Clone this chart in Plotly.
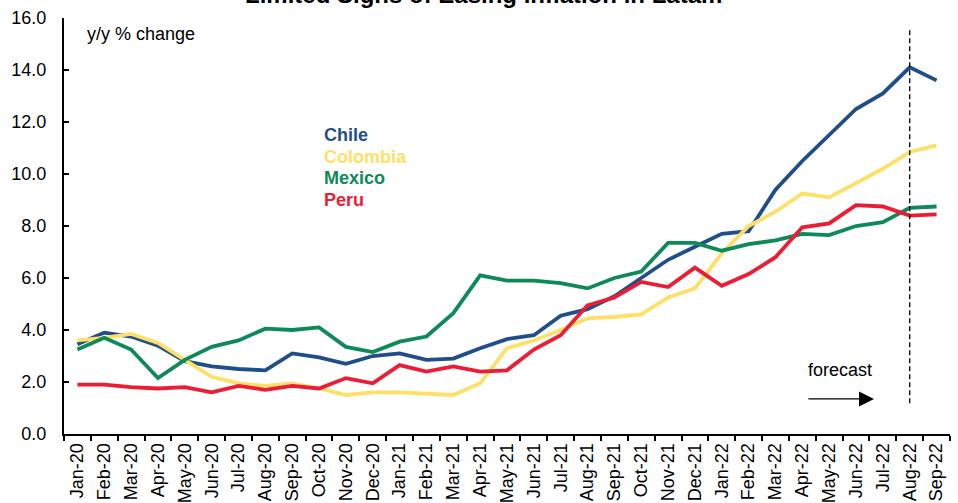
import plotly.graph_objects as go

months = ["Jan-20", "Feb-20", "Mar-20", "Apr-20", "May-20", "Jun-20", "Jul-20", "Aug-20",
          "Sep-20", "Oct-20", "Nov-20", "Dec-20", "Jan-21", "Feb-21", "Mar-21", "Apr-21",
          "May-21", "Jun-21", "Jul-21", "Aug-21", "Sep-21", "Oct-21", "Nov-21", "Dec-21",
          "Jan-22", "Feb-22", "Mar-22", "Apr-22", "May-22", "Jun-22", "Jul-22", "Aug-22", "Sep-22"]

chile = [3.45, 3.9, 3.75, 3.4, 2.8, 2.6, 2.5, 2.45, 3.1, 2.95, 2.7, 3.0, 3.1, 2.85, 2.9, 3.3,
         3.65, 3.8, 4.55, 4.8, 5.3, 6.0, 6.7, 7.2, 7.7, 7.8, 9.4, 10.5, 11.5, 12.5, 13.1, 14.1, 13.6]
colombia = [3.6, 3.7, 3.85, 3.5, 2.85, 2.2, 1.95, 1.85, 1.95, 1.75, 1.5, 1.6, 1.6, 1.55, 1.5, 1.95,
            3.3, 3.6, 4.0, 4.45, 4.5, 4.6, 5.25, 5.6, 6.95, 8.0, 8.55, 9.25, 9.1, 9.65, 10.2, 10.85, 11.1]
mexico = [3.25, 3.7, 3.25, 2.15, 2.85, 3.35, 3.6, 4.05, 4.0, 4.1, 3.35, 3.15, 3.55, 3.75, 4.65, 6.1,
          5.9, 5.9, 5.8, 5.6, 6.0, 6.25, 7.35, 7.35, 7.05, 7.3, 7.45, 7.7, 7.65, 8.0, 8.15, 8.7, 8.75]
peru = [1.9, 1.9, 1.8, 1.75, 1.8, 1.6, 1.85, 1.7, 1.85, 1.75, 2.15, 1.95, 2.65, 2.4, 2.6, 2.4,
        2.45, 3.25, 3.8, 4.95, 5.25, 5.85, 5.65, 6.4, 5.7, 6.15, 6.8, 7.95, 8.1, 8.8, 8.75, 8.4, 8.45]

series_names = ["Chile", "Colombia", "Mexico", "Peru"]
series_values = [chile, colombia, mexico, peru]
series_colors = ["#1F4E8A", "#FFE066", "#0E8A5A", "#EE1B34"]

yticks = [0, 2, 4, 6, 8, 10, 12, 14, 16]
ytick_labels = ["0.0", "2.0", "4.0", "6.0", "8.0", "10.0", "12.0", "14.0", "16.0"]

title_text = "Limited Signs of Easing Inflation in Latam"
forecast_start = "Aug-22"

FONT = "Liberation Sans, Arial, sans-serif"

fig = go.Figure()
for name, vals, col in zip(series_names, series_values, series_colors):
    fig.add_trace(go.Scatter(x=months, y=vals, mode="lines", name=name,
                             line=dict(color=col, width=3.8), showlegend=False))

# legend-like coloured labels
for i, (name, col) in enumerate(zip(series_names, series_colors)):
    fig.add_annotation(x=0.291, y=0.719 - i * 0.0522, xref="paper", yref="paper",
                       text="<b>%s</b>" % name, showarrow=False, xanchor="left", yanchor="middle",
                       font=dict(family=FONT, size=18, color=col))

fig.add_annotation(x=0.024, y=0.962, xref="paper", yref="paper", text="y/y % change",
                   showarrow=False, xanchor="left", yanchor="middle",
                   font=dict(family=FONT, size=18, color="#000"))

# forecast divider
fig.add_shape(type="line", xref="x", yref="y", x0=forecast_start, x1=forecast_start,
              y0=1.18, y1=15.55, line=dict(color="black", width=1.3, dash="5px,3px"))

fig.add_annotation(x=29.67, y=1.35, ax=27.17, ay=1.35, xref="x", yref="y", axref="x", ayref="y",
                   text="", showarrow=True, arrowhead=2, arrowsize=2.3, arrowwidth=1.3,
                   arrowcolor="black")
fig.add_annotation(x=28.4, y=2.48, xref="x", yref="y", text="forecast", showarrow=False,
                   font=dict(family=FONT, size=18, color="#000"))

fig.add_annotation(x=0.4735, y=1.056, xref="paper", yref="paper", text="<b>%s</b>" % title_text,
                   showarrow=False, xanchor="center", yanchor="middle",
                   font=dict(family=FONT, size=24, color="#000"))

fig.update_layout(
    width=958, height=503,
    margin=dict(l=64, r=8, t=18, b=69),
    paper_bgcolor="white", plot_bgcolor="white",
    font=dict(family=FONT, color="#000"),
)
fig.update_xaxes(type="category", categoryorder="array", categoryarray=months,
                 tickmode="array", tickvals=months, ticktext=months,
                 tickangle=-90, tickfont=dict(family=FONT, size=18, color="#000"),
                 showline=True, linecolor="black", linewidth=2, mirror=False,
                 ticks="outside", tickson="boundaries", ticklen=5, tickwidth=1.5, tickcolor="black",
                 showgrid=False, zeroline=False, range=[-0.5, len(months) - 0.5],
                 automargin=False)
fig.update_yaxes(range=[0, 16], tickmode="array", tickvals=yticks, ticktext=ytick_labels,
                 tickfont=dict(family=FONT, size=18, color="#000"),
                 showline=True, linecolor="black", linewidth=2,
                 ticks="inside", ticklen=5, tickwidth=1.5, tickcolor="black",
                 ticklabelstandoff=12, automargin=False,
                 showgrid=False, zeroline=False)

fig.write_html("out.html")
